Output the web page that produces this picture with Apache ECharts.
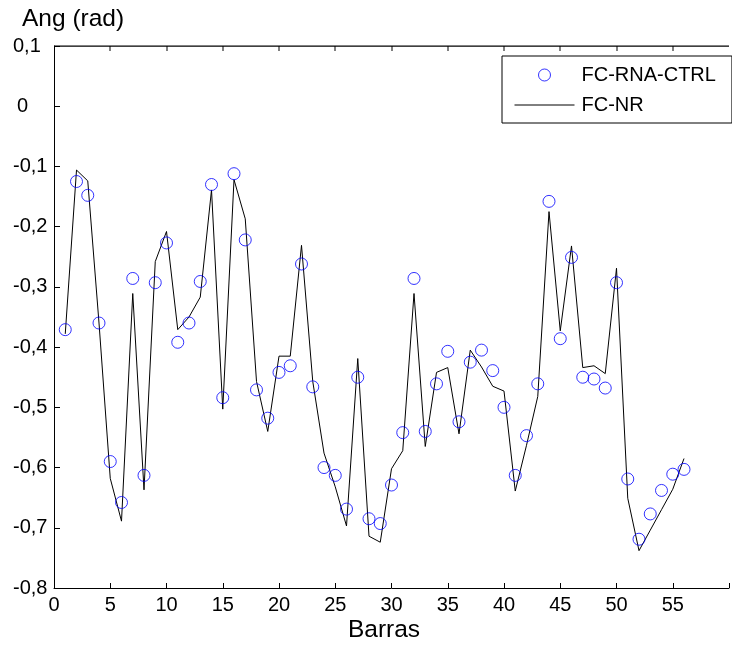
<!DOCTYPE html>
<html>
<head>
<meta charset="utf-8">
<script src="https://cdn.jsdelivr.net/npm/echarts@6/dist/echarts.min.js"></script>
<style>
html,body{margin:0;padding:0;background:#fff;}
#chart{width:732px;height:650px;}
</style>
</head>
<body>
<div id="chart"></div>
<script>
// FC-RNA-CTRL (circles)
const fcRnaCtrl = [-0.371,-0.125,-0.148,-0.36,-0.59,-0.658,-0.286,-0.613,-0.293,-0.227,
  -0.392,-0.36,-0.291,-0.13,-0.484,-0.112,-0.222,-0.471,-0.518,-0.442,
  -0.431,-0.262,-0.466,-0.6,-0.613,-0.669,-0.45,-0.685,-0.693,-0.629,
  -0.542,-0.286,-0.54,-0.461,-0.407,-0.524,-0.425,-0.405,-0.439,-0.5,
  -0.613,-0.547,-0.461,-0.158,-0.386,-0.251,-0.45,-0.453,-0.468,-0.293,
  -0.619,-0.719,-0.677,-0.638,-0.611,-0.603];
// FC-NR (line)
const fcNr = [-0.378,-0.106,-0.124,-0.36,-0.618,-0.689,-0.311,-0.637,-0.258,-0.208,
  -0.371,-0.35,-0.317,-0.139,-0.503,-0.122,-0.187,-0.457,-0.54,-0.415,
  -0.415,-0.231,-0.457,-0.576,-0.632,-0.697,-0.419,-0.714,-0.724,-0.602,
  -0.572,-0.311,-0.565,-0.442,-0.434,-0.544,-0.405,-0.433,-0.465,-0.473,
  -0.639,-0.563,-0.482,-0.175,-0.373,-0.232,-0.434,-0.431,-0.444,-0.269,
  -0.651,-0.738,-0.704,-0.67,-0.636,-0.585];
const barras = fcRnaCtrl.map((_, i) => i + 1);
const xTicks = [0, 5, 10, 15, 20, 25, 30, 35, 40, 45, 50, 55];
const seriesNames = ['FC-RNA-CTRL', 'FC-NR'];
const xLabel = 'Barras';
const yLabel = 'Ang (rad)';
const yTop = 0.1;
const yBottom = -0.8;
const xMax = 60;

const FONT = 'Liberation Sans';
const chart = echarts.init(document.getElementById('chart'), null, {renderer: 'canvas'});

const fmtY = v => {
  if (Math.abs(v) < 1e-9) return '{z|0}';
  return v.toFixed(1).replace('.', ',');
};

const GRID = {left: 54, top: 46, right: -8, bottom: 62};

const option = {
  backgroundColor: '#fff',
  animation: false,
  grid: Object.assign({containLabel: false}, GRID),
  xAxis: [{
    type: 'value', min: 0, max: xMax, interval: 5, position: 'bottom',
    axisLine: {show: true, onZero: false, lineStyle: {color: '#000', width: 1}},
    axisTick: {show: true, inside: true, length: 5, lineStyle: {color: '#000'}},
    axisLabel: {color: '#000', fontSize: 20, fontFamily: FONT, margin: 7,
      formatter: v => (v >= xMax ? '' : String(v))},
    splitLine: {show: false}
  }],
  yAxis: {
    type: 'value', min: yBottom, max: yTop, interval: 0.1,
    axisLine: {show: true, onZero: false, lineStyle: {color: '#000', width: 1}},
    axisTick: {show: true, inside: true, length: 6, lineStyle: {color: '#000'}},
    axisLabel: {color: '#000', fontSize: 20, fontFamily: FONT, align: 'left', margin: 41,
      formatter: fmtY, rich: {z: {fontSize: 20, fontFamily: FONT, color: '#000', padding: [0, 0, 0, 4]}}},
    splitLine: {show: false}
  },
  legend: {
    left: 502, top: 56, orient: 'vertical',
    borderColor: '#000', borderWidth: 1, backgroundColor: '#fff',
    padding: [9, 16, 8, 12], itemGap: 10, itemWidth: 60, itemHeight: 12,
    textStyle: {fontSize: 20, fontFamily: FONT, color: '#000', padding: [0, 0, 0, 2]},
    data: [
      {name: seriesNames[0], icon: 'circle', itemStyle: {color: '#fff', borderColor: '#0000ff', borderWidth: 1}},
      {name: seriesNames[1], itemStyle: {opacity: 0}, lineStyle: {color: '#000', width: 1}}
    ]
  },
  series: [
    {
      name: seriesNames[1], type: 'line',
      data: barras.map((b, i) => [b, fcNr[i]]),
      symbol: 'none', showSymbol: false,
      lineStyle: {color: '#000', width: 1}, itemStyle: {color: '#000'},
      z: 2
    },
    {
      name: seriesNames[0], type: 'scatter',
      data: barras.map((b, i) => [b, fcRnaCtrl[i]]),
      symbol: 'circle', symbolSize: 12,
      itemStyle: {color: 'rgba(0,0,0,0)', borderColor: '#0000ff', borderWidth: 1},
      z: 3
    }
  ]
};
chart.setOption(option);

// Top frame and its inward ticks, placed through the chart's own scale.
function px(p) {
  let r = null;
  try { r = chart.convertToPixel({gridIndex: 0}, p); } catch (e) { r = null; }
  if (!r || !isFinite(r[0]) || !isFinite(r[1])) {
    const W = chart.getWidth(), H = chart.getHeight();
    const x0 = GRID.left, x1 = W - GRID.right, y0 = GRID.top, y1 = H - GRID.bottom;
    r = [x0 + (p[0] / xMax) * (x1 - x0), y1 - ((p[1] - yBottom) / (yTop - yBottom)) * (y1 - y0)];
  }
  return r;
}
const pL = px([0, yTop]);
const pR = px([xMax, yTop]);
const yT = Math.round(pL[1]);
const frame = [{
  type: 'rect', z: 1000, zlevel: 0, silent: true,
  shape: {x: pL[0], y: yT - 0.5, width: pR[0] - pL[0], height: 1.2},
  style: {fill: '#000', stroke: null}
}];
xTicks.slice(1).forEach(t => {
  const p = px([t, yTop]);
  frame.push({
    type: 'rect', z: 1000, silent: true,
    shape: {x: Math.round(p[0]) - 0.5, y: yT, width: 1, height: 5},
    style: {fill: '#000', stroke: null}
  });
});
frame.push({type: 'rect', z: 1000, silent: true,
  shape: {x: pL[0], y: yT, width: 6, height: 1}, style: {fill: '#000', stroke: null}});
frame.push({type: 'text', z: 1000, left: 22, top: 7,
  style: {text: yLabel, fontSize: 24.5, fontFamily: FONT, fill: '#000'}});
frame.push({type: 'text', z: 1000, x: 384, y: 618,
  style: {text: xLabel, fontSize: 24.5, fontFamily: FONT, fill: '#000', align: 'center', verticalAlign: 'top'}});
chart.setOption({graphic: frame});
</script>
</body>
</html>
